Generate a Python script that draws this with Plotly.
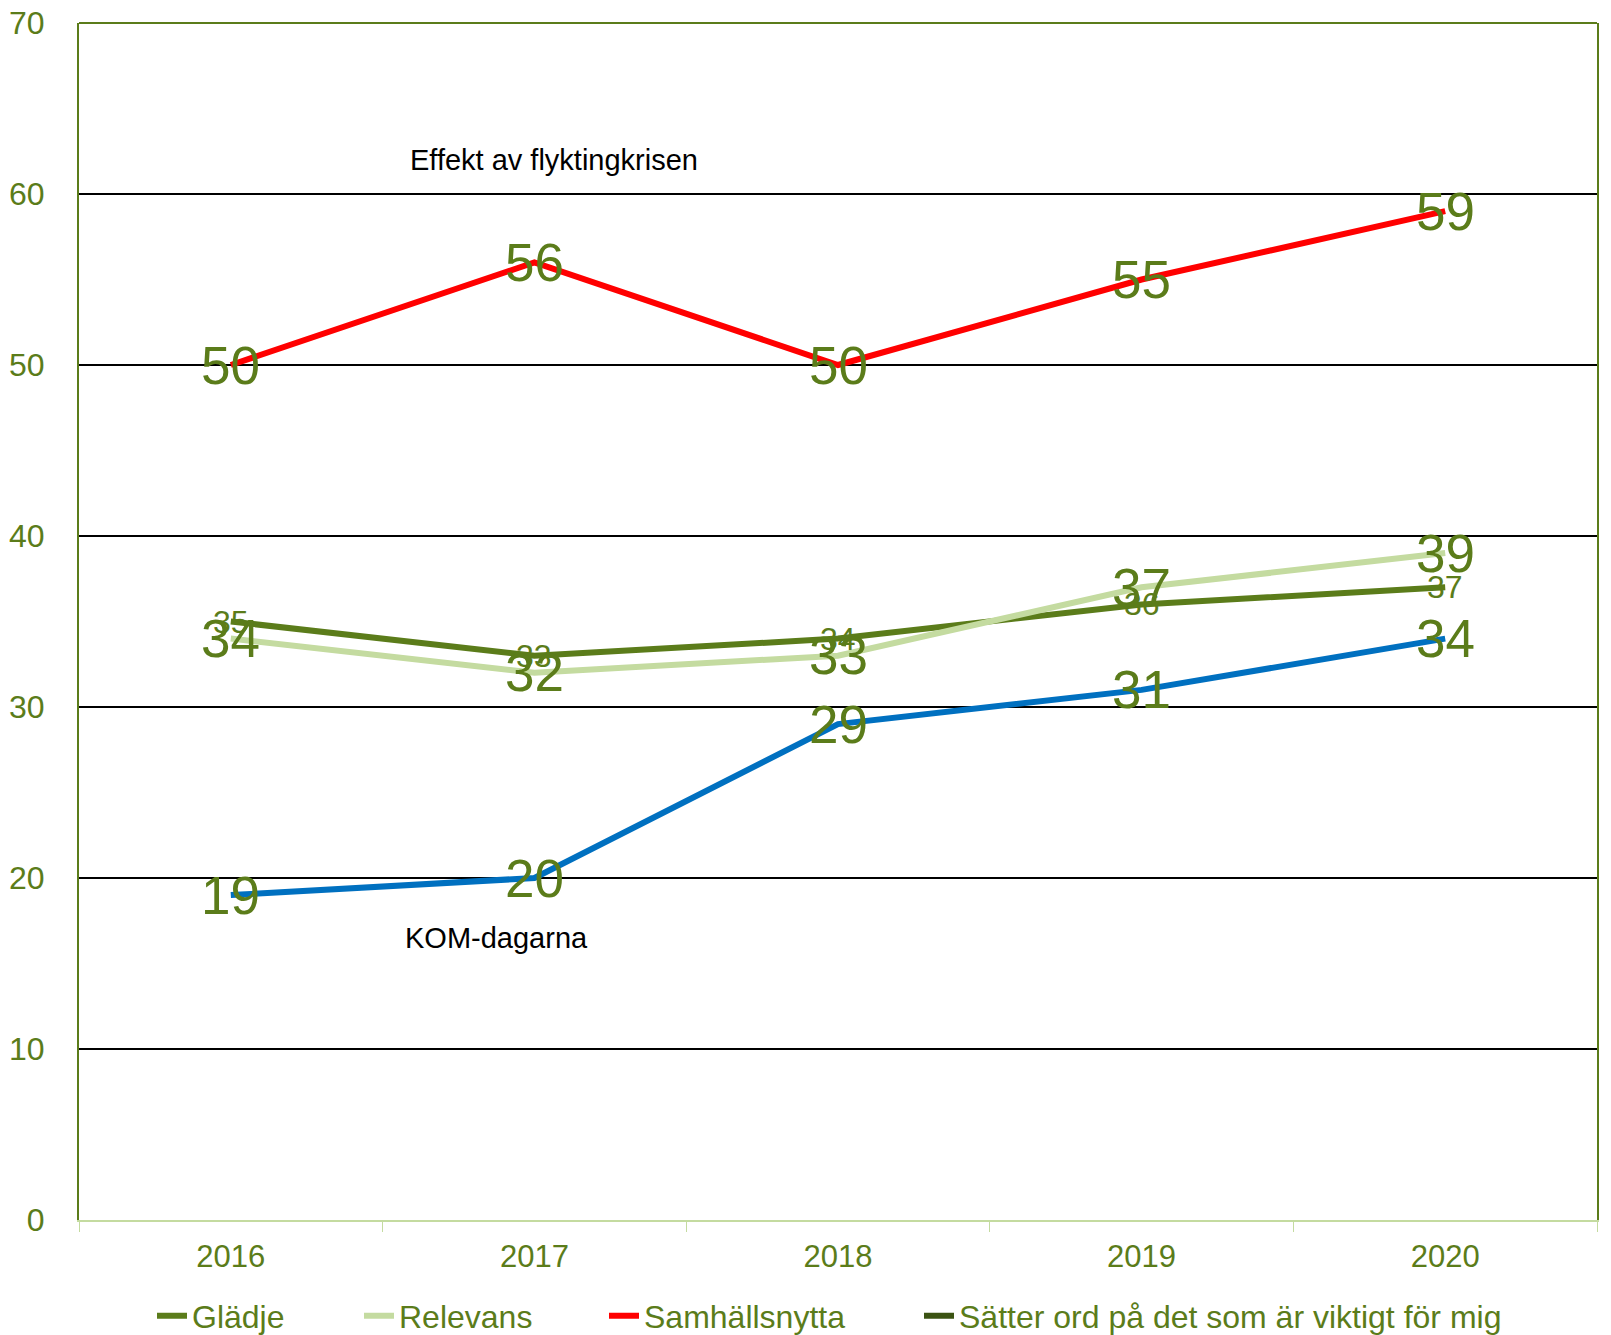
import plotly.graph_objects as go

years = ['2016', '2017', '2018', '2019', '2020']
gladje = [35, 33, 34, 36, 37]
relevans = [34, 32, 33, 37, 39]
samhallsnytta = [50, 56, 50, 55, 59]
kom_dagarna = [19, 20, 29, 31, 34]

GREEN = '#5b7c1a'
LIGHT = '#c4dba0'
DARK = '#3b5312'
FONT = 'Liberation Sans, Arial, sans-serif'

# the page body adds an 8px offset, so the margins are reduced by it
OFF = 8
L, T = 79 - OFF, 23 - OFF
PW, PH = 1518, 1197
B = 115
R = 1611 - L - PW

fig = go.Figure()

fig.add_trace(go.Scatter(
    x=years, y=kom_dagarna, mode='lines', showlegend=False,
    line=dict(color='#0070c0', width=6)
))
fig.add_trace(go.Scatter(
    x=years, y=gladje, mode='lines', name='Glädje', legend='legend',
    line=dict(color=GREEN, width=6)
))
fig.add_trace(go.Scatter(
    x=years, y=relevans, mode='lines', name='Relevans', legend='legend2',
    line=dict(color=LIGHT, width=6)
))
fig.add_trace(go.Scatter(
    x=years, y=samhallsnytta, mode='lines', name='Samhällsnytta', legend='legend3',
    line=dict(color='#ff0000', width=6)
))
# legend-only entry
fig.add_trace(go.Scatter(
    x=[None], y=[None], mode='lines', name='Sätter ord på det som är viktigt för mig',
    legend='legend4', line=dict(color=DARK, width=6)
))

# data labels centred on the points
# (category index used for x, since year strings would be read as numbers)
for series, size in [(kom_dagarna, 53), (gladje, 32), (relevans, 53), (samhallsnytta, 53)]:
    for i, v in enumerate(series):
        fig.add_annotation(x=i, y=v, text=str(v), showarrow=False,
                           xanchor='center', yanchor='middle',
                           font=dict(size=size, color=GREEN, family=FONT))

# top border
fig.add_shape(type='line', xref='paper', yref='paper', x0=0, x1=1, y0=1, y1=1,
              line=dict(color=GREEN, width=2))

ann_font = dict(size=29, color='#000000', family=FONT)
fig.add_annotation(text='Effekt av flyktingkrisen', xref='paper', yref='y',
                   x=(408 - 79) / PW, y=62.0, xanchor='left', yanchor='middle',
                   showarrow=False, font=ann_font)
fig.add_annotation(text='KOM-dagarna', xref='paper', yref='y',
                   x=(403 - 79) / PW, y=16.5, xanchor='left', yanchor='middle',
                   showarrow=False, font=ann_font)

leg_y = -(1316 - 1220) / PH


def leg(text_x):
    # legend text starts about 40px right of the legend box edge
    return dict(orientation='h', x=(text_x - 40 - 79) / PW, xanchor='left', y=leg_y,
                yanchor='middle', font=dict(size=32, color=GREEN, family=FONT),
                bgcolor='rgba(0,0,0,0)')


fig.update_layout(
    width=1611, height=T + PH + B,
    margin=dict(l=L, r=R, t=T, b=B, autoexpand=False),
    plot_bgcolor='white', paper_bgcolor='white',
    font=dict(family=FONT, color=GREEN, size=31),
    legend=leg(192), legend2=leg(399), legend3=leg(644), legend4=leg(959),
    xaxis=dict(
        type='category', range=[-0.5, 4.5], automargin=False,
        showline=True, linecolor=LIGHT, linewidth=2,
        ticks='outside', tickson='boundaries', ticklen=10, tickcolor=LIGHT,
        showgrid=False, tickfont=dict(size=31, color=GREEN),
        ticklabelstandoff=8
    ),
    yaxis=dict(
        range=[0, 70], dtick=10, automargin=False,
        showline=True, linecolor=GREEN, linewidth=2, mirror=True,
        gridcolor='#000000', gridwidth=2, zeroline=False,
        tickfont=dict(size=32, color=GREEN),
        ticklabelstandoff=26, ticklabeloverflow='allow'
    ),
)

fig.write_html('out.html')
